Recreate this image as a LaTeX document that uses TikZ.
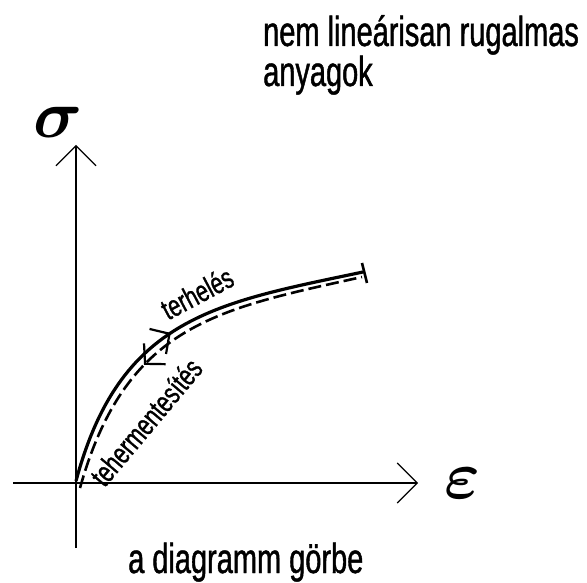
\RequirePackage{fix-cm}
\documentclass[tikz,border=0pt]{standalone}
\usepackage{fontspec}
\setmainfont{Liberation Sans}[FakeStretch=0.69, FakeBold=1]
\newfontfamily\curvefont{Liberation Sans}[FakeStretch=0.72, FakeBold=1]
\usepackage{tikz}
\usetikzlibrary{arrows.meta, positioning, calc, decorations.markings}

\tikzset{
  axis/.style={line width=1.1pt, -{Straight Barb[length=20pt,width=40pt]}},
  loadcurve/.style={line width=3.2pt},
  unloadcurve/.style={line width=2.6pt, dash pattern=on 13pt off 5pt},
  curvelbl/.style={font=\curvefont\fontsize{30}{30}\selectfont, inner sep=0pt},
  bigtext/.style={font=\fontsize{42}{40}\selectfont, inner sep=0pt, align=left},
  symlbl/.style={font=\fontsize{68}{68}\selectfont\boldmath, inner sep=0pt}
}

\begin{document}
\begin{tikzpicture}[x=1pt, y=1pt]
  \useasboundingbox (0,0) rectangle (587,582);

  % axes
  \coordinate (ybot) at (76,34);
  \coordinate (ytop) at (76,437);
  \coordinate (xleft) at (13,99);
  \coordinate (xright) at (418,99);
  \draw[axis] (ybot) -- (ytop);
  \draw[axis] (xleft) -- (xright);
  \node[symlbl] (sigmalbl) at (58,460) {$\sigma$};
  \node[symlbl] (epslbl) at (462,99) {$\varepsilon$};

  % loading and unloading curves
  \coordinate (loadstart) at (76,101);
  \coordinate (loadend) at (363,310);
  \coordinate (unloadstart) at (80,94);
  \coordinate (unloadend) at (362,305);
  \draw[loadcurve, postaction={decorate, decoration={markings,
      mark=at position 0.47 with {\arrow[line width=2.2pt]{Straight Barb[length=14pt,width=30pt]}}}}]
    (loadstart) .. controls (120,265) and (216,279) .. (loadend);
  \draw[unloadcurve, postaction={decorate, decoration={markings,
      mark=at position 0.37 with {\arrowreversed[line width=2.2pt]{Straight Barb[length=14pt,width=30pt]}}}}]
    (unloadstart) .. controls (126,258) and (218,273) .. (unloadend);
  \coordinate (tickA) at (362,319);
  \coordinate (tickB) at (367,299);
  \draw[line width=2.6pt] (tickA) -- (tickB);

  \node[curvelbl, rotate=28] (loadlbl) at (197,289) {terhelés};
  \node[curvelbl, rotate=50] (unloadlbl) at (146,160) {tehermentesítés};

  % titles
  \node[bigtext, anchor=base west] (title) at (263,496) {nem lineárisan rugalmas\\anyagok};
  \node[bigtext, anchor=base west] (caption) at (128,9) {a diagramm görbe};
\end{tikzpicture}
\end{document}
